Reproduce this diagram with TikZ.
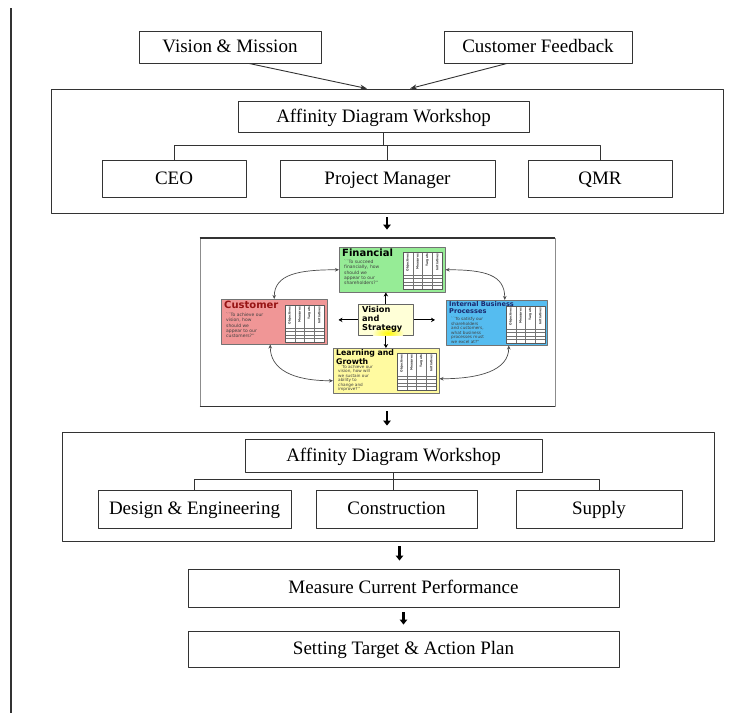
\documentclass[tikz,border=0pt]{standalone}
\usepackage{fontspec}
\setmainfont{Liberation Serif}
\newfontfamily\bscfont{DejaVu Sans}
\usetikzlibrary{arrows.meta}

\definecolor{fincol}{RGB}{150,236,150}
\definecolor{cuscol}{RGB}{240,150,150}
\definecolor{ibpcol}{RGB}{85,188,240}
\definecolor{lgcol}{RGB}{255,250,160}
\definecolor{viscol}{RGB}{255,255,215}
\definecolor{cusred}{RGB}{150,20,20}
\definecolor{ibpblue}{RGB}{25,40,110}

% small scorecard table: four rotated headings and a few empty rows
\tikzset{
  pics/bsctab/.style={code={
    \fill[white] (0,0) rectangle (39,37);
    \foreach \lbl [count=\i from 0] in {Objectives,Measures,Targets,Initiatives}
      \node[rotate=90,anchor=east,inner sep=0pt,text=black!80,
            font=\bscfont\bfseries\fontsize{3}{3}\selectfont] (-h\i) at (4.9+9.75*\i,1.5) {\lbl};
    \foreach \r in {23,26.5,30,33.5}
      \draw[black!55,line width=0.3pt] (0,\r) -- (39,\r);
    \foreach \c in {9.75,19.5,29.25}
      \draw[black!55,line width=0.3pt] (\c,0) -- (\c,37);
    \draw[black!65,line width=0.4pt] (0,0) rectangle (39,37);
  }}
}

\begin{document}
\begin{tikzpicture}[x=1pt,y=-1pt,line join=round,
  box/.style={draw=black!80,line width=0.9pt,inner sep=0pt,text height=12.5pt,text depth=1.5pt,
    font=\fontsize{19}{22}\selectfont},
  link/.style={draw=black!80,line width=0.9pt},
  dnarrow/.style={line width=2.4pt,-{Triangle[length=5pt,width=7.5pt]}},
  panel/.style={draw=black!55,line width=0.5pt,anchor=north west,inner sep=0pt,
    minimum width=106pt,minimum height=45pt},
  ttl/.style={anchor=north west,inner sep=0pt,align=left,
    font=\bscfont\bfseries\fontsize{10}{9}\selectfont},
  qt/.style={anchor=north west,inner sep=0pt,align=left,text=black!75,
    font=\bscfont\fontsize{4.5}{5.4}\selectfont},
  bscarrow/.style={line width=1pt,-{Stealth[length=4pt,width=4.5pt]}},
  cyc/.style={draw=black!70,line width=0.7pt,{Stealth[length=4pt,width=3.5pt]}-{Stealth[length=4pt,width=3.5pt]}}]
\useasboundingbox[fill=white] (0,0) rectangle (750,713);
% rule on the left margin
\draw[line width=1.3pt,black!80] (11,8) -- (11,713);

% inputs
\node[box,minimum width=182pt,minimum height=32pt] (vm) at (230,47) {Vision \& Mission};
\node[box,minimum width=188pt,minimum height=32pt] (cf) at (538,47) {Customer Feedback};

% first workshop
\node[box,minimum width=672pt,minimum height=124pt] (ws1) at (387,151) {};
\node[box,minimum width=291pt,minimum height=31pt] (aw1) at (383.5,117) {Affinity Diagram Workshop};
\node[box,minimum width=144pt,minimum height=37pt] (ceo) at (174,178.5) {CEO};
\node[box,minimum width=215pt,minimum height=37pt] (pm) at (387.5,178.5) {Project Manager};
\node[box,minimum width=144pt,minimum height=37pt] (qmr) at (600,178.5) {QMR};
\draw[link] (ceo.north) -- ++(0,-14) -| (qmr.north);
\draw[link] (aw1.south) -- (aw1.south |- 0,146);
\draw[link] (pm.north) -- (pm.north |- 0,146);

\draw[link,-{Stealth[length=7pt,width=5pt]}] ([xshift=19pt]vm.south) -- ([xshift=-20pt]ws1.north);
\draw[link,-{Stealth[length=7pt,width=5pt]}] ([xshift=-31pt]cf.south) -- ([xshift=23pt]ws1.north);

% balanced scorecard
\node[draw=black!45,line width=0.8pt,minimum width=355pt,minimum height=168pt,inner sep=0pt] (bsc) at (377.5,322) {};
\draw[black!80,line width=1.8pt] (bsc.north west) -- (bsc.north east) (bsc.south west) -- (bsc.south east);

\node[panel,fill=fincol] (fin) at (339,247) {};
\pic (fintab) at ([shift={(64,5)}]fin.north west) {bsctab};
\node[ttl] (fintitle) at ([shift={(3,1.5)}]fin.north west) {Financial};
\node[qt] (finquote) at ([shift={(5,12.5)}]fin.north west) {``To succeed\\financially, how\\should we\\appear to our\\shareholders?''};

\node[panel,fill=cuscol] (cus) at (221,299) {};
\pic (custab) at ([shift={(64,6)}]cus.north west) {bsctab};
\node[ttl,text=cusred] (custitle) at ([shift={(3,1.5)}]cus.north west) {Customer};
\node[qt] (cusquote) at ([shift={(5,13.5)}]cus.north west) {``To achieve our\\vision, how\\should we\\appear to our\\customers?''};

\node[panel,fill=ibpcol,minimum width=101pt] (ibp) at (446,300) {};
\pic (ibptab) at ([shift={(60,6)}]ibp.north west) {bsctab};
\node[ttl,text=ibpblue,font=\bscfont\bfseries\fontsize{6.6}{6.8}\selectfont] (ibptitle) at ([shift={(3,1.5)}]ibp.north west) {Internal Business\\Processes};
\node[qt,font=\bscfont\fontsize{4.2}{4.6}\selectfont] (ibpquote) at ([shift={(5,17)}]ibp.north west) {``To satisfy our\\shareholders\\and customers,\\what business\\processes must\\we excel at?''};

\node[panel,fill=lgcol] (lg) at (333,348) {};
\pic (lgtab) at ([shift={(64,5)}]lg.north west) {bsctab};
\node[ttl,font=\bscfont\bfseries\fontsize{7.8}{7.4}\selectfont] (lgtitle) at ([shift={(3,1.5)}]lg.north west) {Learning and\\Growth};
\node[qt,font=\bscfont\fontsize{4.2}{4.5}\selectfont] (lgquote) at ([shift={(5,16.5)}]lg.north west) {``To achieve our\\vision, how will\\we sustain our\\ability to\\change and\\improve?''};

\node[draw=black!60,line width=0.8pt,fill=viscol,anchor=north west,inner sep=0pt,
  minimum width=55pt,minimum height=31pt] (vis) at (358,304) {};
\begin{scope}
  \clip (vis.south west) rectangle (vis.north east);
  \shade[inner color=yellow!95!orange,outer color=viscol] (388,333) ellipse (16 and 7);
\end{scope}
\node[anchor=north west,inner sep=0pt,align=left,font=\bscfont\bfseries\fontsize{8.2}{8.6}\selectfont] (vistext) at ([shift={(4,2.5)}]vis.north west) {Vision\\and\\Strategy};

\draw[bscarrow] (vis.north) -- (vis.north |- fin.south);
\draw[bscarrow] (vis.south) -- (vis.south |- lg.north);
\draw[bscarrow] (vis.west) -- ([xshift=11pt]vis.west -| cus.east);
\draw[bscarrow] (vis.east) -- ([xshift=-11pt]vis.east -| ibp.west);
\draw[cyc] (fin.west) .. controls +(-40,0) and +(0,-25) .. (cus.north);
\draw[cyc] (fin.east) .. controls +(40,0) and +(0,-25) .. ([xshift=8pt]ibp.north);
\draw[cyc] ([xshift=12pt]ibp.south) .. controls +(0,25) and +(40,0) .. ([yshift=-8pt]lg.east);
\draw[cyc] ([yshift=-10pt]lg.west) .. controls +(-40,0) and +(0,25) .. ([xshift=-4pt]cus.south);

% second workshop
\node[box,minimum width=652pt,minimum height=109pt] (ws2) at (388,486.5) {};
\node[box,minimum width=297pt,minimum height=33pt] (aw2) at (393.5,455.5) {Affinity Diagram Workshop};
\node[box,minimum width=193pt,minimum height=38pt] (de) at (194.5,509) {Design \& Engineering};
\node[box,minimum width=161pt,minimum height=38pt] (con) at (396.5,509) {Construction};
\node[box,minimum width=166pt,minimum height=38pt] (sup) at (599,509) {Supply};
\draw[link] (de.north) -- ++(0,-10) -| (sup.north);
\draw[link] (aw2.south) -- (aw2.south |- con.north);

% follow-up steps
\node[box,minimum width=431pt,minimum height=38pt] (mcp) at (403.5,588) {Measure Current Performance};
\node[box,minimum width=431pt,minimum height=36pt] (stap) at (403.5,649) {Setting Target \& Action Plan};

\draw[dnarrow] ([yshift=-4pt]ws1.south) -- ([yshift=8pt]ws1.south |- bsc.north);
\draw[dnarrow] ([yshift=-5pt]bsc.south -| ws1.south) -- ([yshift=6pt]ws2.north -| ws1.south);
\draw[dnarrow] ([xshift=-4pt,yshift=-5pt]ws2.south -| mcp.north) -- ([xshift=-4pt,yshift=8pt]mcp.north);
\draw[dnarrow] ([yshift=-5pt]mcp.south) -- ([yshift=6pt]stap.north);
\end{tikzpicture}
\end{document}
